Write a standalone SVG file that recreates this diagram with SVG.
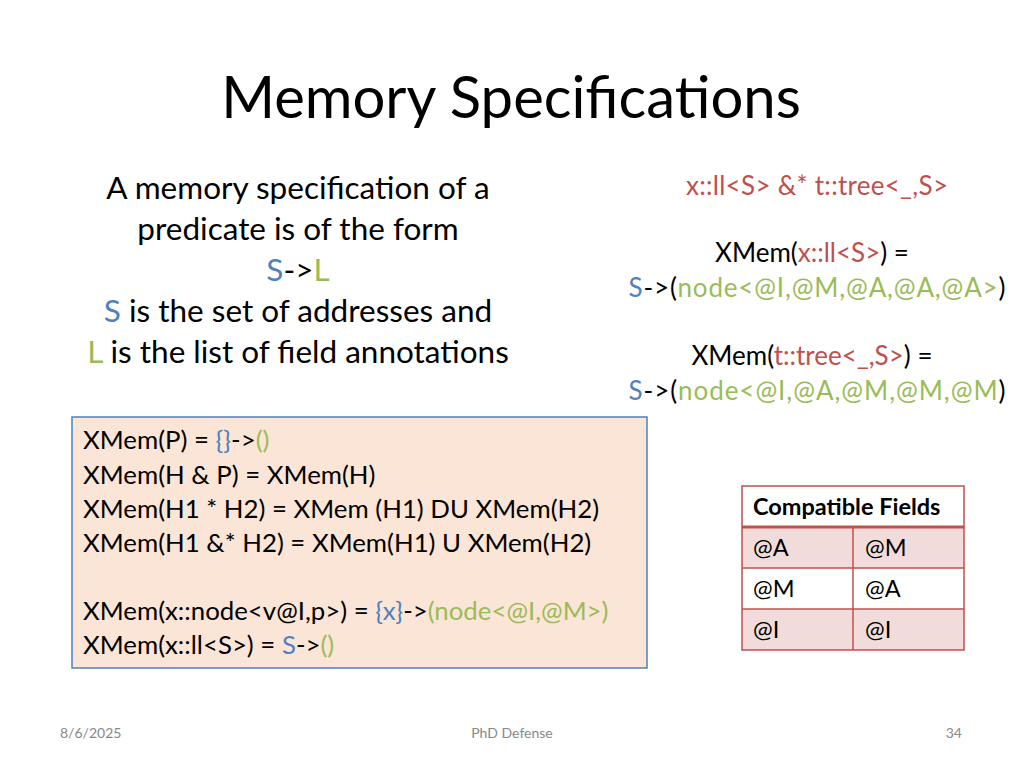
<svg xmlns="http://www.w3.org/2000/svg" width="1024" height="768" viewBox="0 0 1024 768">
<style>
text{font-family:Lato,"Open Sans","Liberation Sans",sans-serif;fill:#000}
.b{fill:#4f81bd}.g{fill:#9bbb59}.r{fill:#c0504d}
.m{font-size:31.5px}.s{font-size:25.8px}.x{font-size:26px}.t{font-size:23.5px}.f{font-size:14px;fill:#888}
</style>
<rect width="1024" height="768" fill="#fff"/>
<text x="511" y="118" font-size="58" text-anchor="middle">Memory Specifications</text>
<g id="desc" text-anchor="middle">
<text x="298" y="199" class="m">A memory specification of a</text>
<text x="298" y="240" class="m">predicate is of the form</text>
<text x="298" y="281" class="m"><tspan class="b">S</tspan>-&gt;<tspan class="g">L</tspan></text>
<text x="298" y="322" class="m"><tspan class="b">S</tspan> is the set of addresses and</text>
<text x="298" y="363" class="m"><tspan class="g">L</tspan> is the list of field annotations</text>
</g>
<g id="examples" text-anchor="middle">
<text x="817" y="195" class="x r" textLength="262">x::ll&lt;S&gt; &amp;* t::tree&lt;_,S&gt;</text>
<text x="812" y="262" class="x">XMem(<tspan class="r">x::ll&lt;S&gt;</tspan>) =</text>
<text x="817" y="297" class="x" textLength="377"><tspan class="b">S</tspan>-&gt;(<tspan class="g">node&lt;@I,@M,@A,@A,@A&gt;</tspan>)</text>
<text x="812" y="365" class="x">XMem(<tspan class="r">t::tree&lt;_,S&gt;</tspan>) =</text>
<text x="817" y="400" class="x" textLength="377"><tspan class="b">S</tspan>-&gt;(<tspan class="g">node&lt;@I,@A,@M,@M,@M</tspan>)</text>
</g>
<g id="rules">
<rect x="72" y="417" width="575" height="251" fill="#fbe5d6" stroke="#4f81bd" stroke-width="1.5"/>
<g class="s">
<text x="83" y="449">XMem(P) = <tspan class="b">{}</tspan>-&gt;<tspan class="g">()</tspan></text>
<text x="83" y="484">XMem(H &amp; P) = XMem(H)</text>
<text x="83" y="518">XMem(H1 * H2) = XMem (H1) DU XMem(H2)</text>
<text x="83" y="552">XMem(H1 &amp;* H2) = XMem(H1) U XMem(H2)</text>
<text x="83" y="620">XMem(x::node&lt;v@I,p&gt;) = <tspan class="b">{x}</tspan>-&gt;<tspan class="g">(node&lt;@I,@M&gt;)</tspan></text>
<text x="83" y="654">XMem(x::ll&lt;S&gt;) = <tspan class="b">S</tspan>-&gt;<tspan class="g">()</tspan></text>
</g>
</g>
<g id="table">
<rect x="742" y="486" width="222" height="41" fill="#fff"/>
<rect x="742" y="527" width="222" height="41" fill="#f2dcdb"/>
<rect x="742" y="568" width="222" height="41" fill="#fff"/>
<rect x="742" y="609" width="222" height="41" fill="#f2dcdb"/>
<g stroke="#c0504d" stroke-width="1.5" fill="none">
<rect x="742" y="486" width="222" height="164"/>
<line x1="742" y1="527" x2="964" y2="527" stroke-width="3"/>
<line x1="742" y1="568" x2="964" y2="568"/>
<line x1="742" y1="609" x2="964" y2="609"/>
<line x1="853" y1="527" x2="853" y2="650"/>
</g>
<text x="753" y="515" class="t" font-weight="bold">Compatible Fields</text>
<g class="t">
<text x="753" y="556">@A</text><text x="865" y="556">@M</text>
<text x="753" y="597">@M</text><text x="865" y="597">@A</text>
<text x="753" y="638">@I</text><text x="865" y="638">@I</text>
</g>
</g>
<text x="60" y="738" class="f">8/6/2025</text>
<text x="512" y="738" class="f" text-anchor="middle">PhD Defense</text>
<text x="962" y="738" class="f" text-anchor="end">34</text>
</svg>
